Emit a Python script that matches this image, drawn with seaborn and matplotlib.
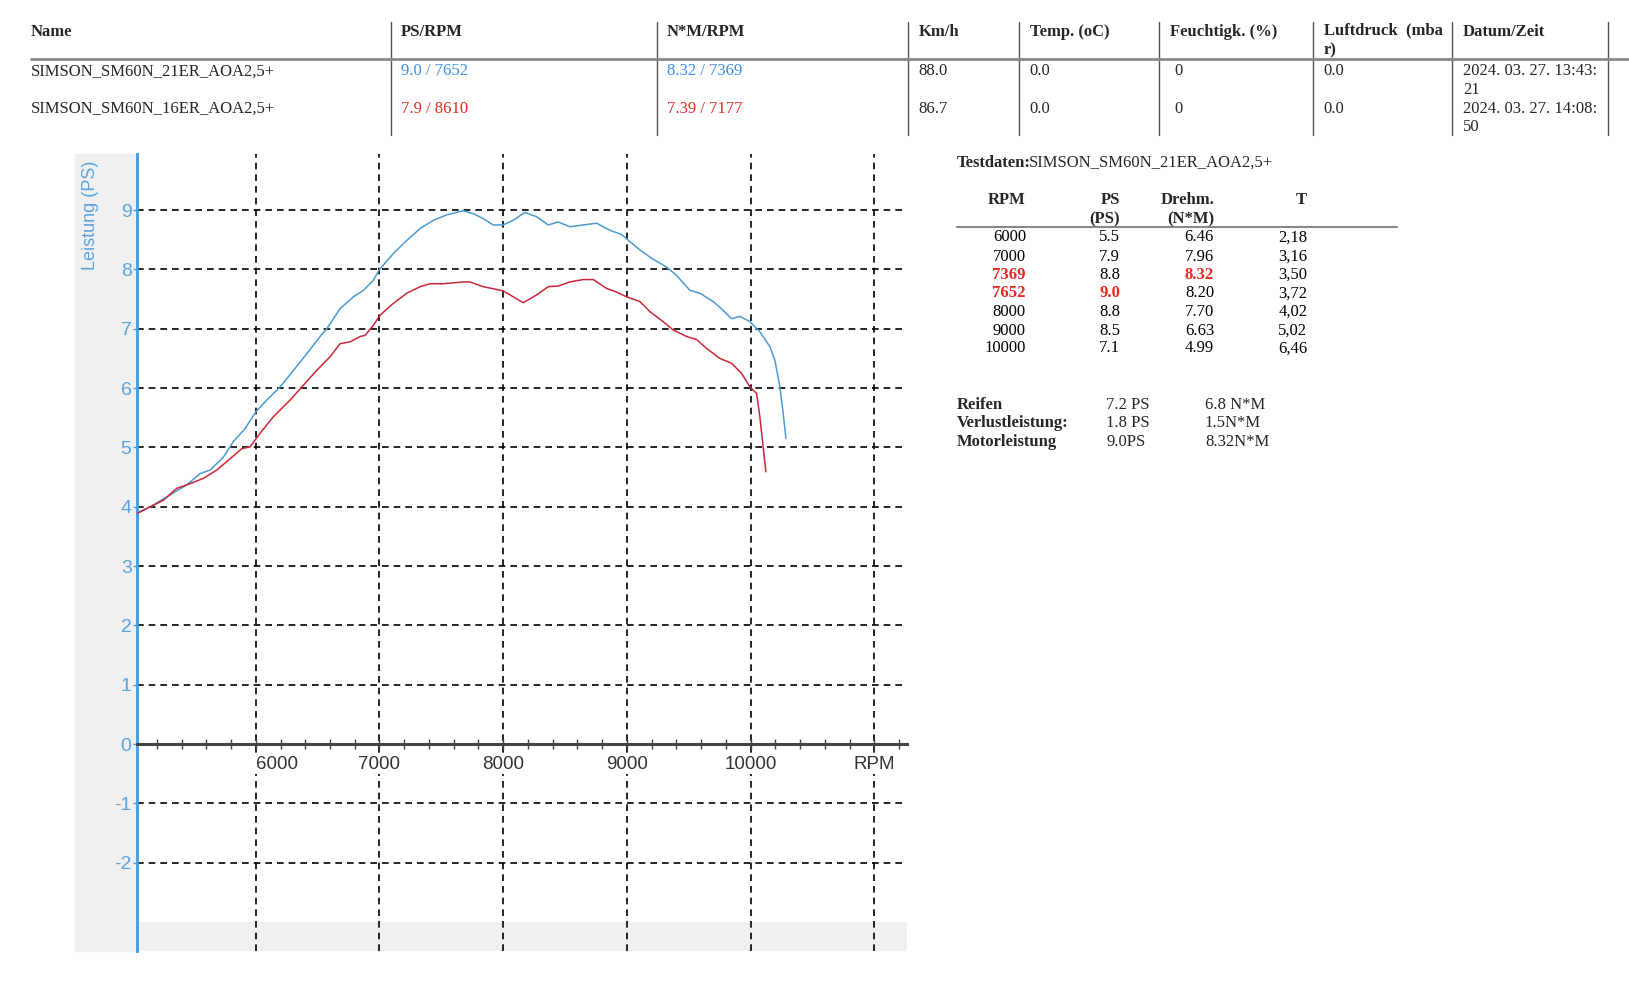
import matplotlib.pyplot as plt
import seaborn as sns
from matplotlib.patches import Rectangle
from matplotlib.lines import Line2D

# Leistungskurven
rpm_21er = [5043, 5146, 5307, 5442, 5550, 5631, 5739, 5819, 5914, 6000,
            6089, 6197, 6305, 6412, 6520, 6574, 6682, 6790, 6871, 6951,
            7000, 7113, 7221, 7329, 7437, 7544, 7679, 7757, 7838, 7919,
            8000, 8081, 8175, 8270, 8364, 8445, 8539, 8647, 8755, 8863,
            8957, 9024, 9105, 9199, 9321, 9402, 9509, 9590, 9698, 9779,
            9846, 9914, 9995, 10075, 10156, 10197, 10237, 10264, 10286]
ps_21er = [3.90, 4.00, 4.20, 4.37, 4.56, 4.62, 4.84, 5.10, 5.32, 5.60,
           5.80, 6.02, 6.30, 6.58, 6.87, 7.00, 7.34, 7.54, 7.65, 7.82,
           8.00, 8.27, 8.49, 8.69, 8.83, 8.92, 8.99, 8.94, 8.86, 8.75,
           8.75, 8.83, 8.96, 8.89, 8.75, 8.80, 8.72, 8.75, 8.78, 8.66,
           8.59, 8.47, 8.33, 8.19, 8.04, 7.90, 7.65, 7.60, 7.46, 7.31,
           7.17, 7.21, 7.12, 6.95, 6.70, 6.47, 6.02, 5.57, 5.15]

rpm_16er = [5043, 5146, 5253, 5361, 5469, 5577, 5685, 5792, 5887, 5954,
            6035, 6143, 6278, 6385, 6493, 6601, 6682, 6763, 6844, 6884,
            6951, 7005, 7113, 7221, 7329, 7410, 7518, 7679, 7730, 7838,
            8000, 8081, 8162, 8270, 8364, 8445, 8539, 8647, 8728, 8836,
            8916, 8997, 9105, 9186, 9294, 9375, 9483, 9563, 9644, 9752,
            9846, 9927, 9995, 10049, 10075, 10102, 10124]
ps_16er = [3.89, 4.00, 4.11, 4.31, 4.39, 4.48, 4.62, 4.81, 4.98, 5.01,
           5.24, 5.52, 5.80, 6.05, 6.30, 6.53, 6.75, 6.78, 6.87, 6.89,
           7.06, 7.23, 7.43, 7.60, 7.71, 7.76, 7.76, 7.79, 7.79, 7.71,
           7.64, 7.54, 7.44, 7.57, 7.71, 7.72, 7.79, 7.83, 7.83, 7.68,
           7.62, 7.54, 7.46, 7.29, 7.12, 6.98, 6.87, 6.82, 6.67, 6.50,
           6.42, 6.25, 6.02, 5.91, 5.52, 5.01, 4.59]

x_ticks = [6000, 7000, 8000, 9000, 10000, 11000]
x_tick_labels = ['6000', '7000', '8000', '9000', '10000', 'RPM']
y_ticks = [-2, -1, 0, 1, 2, 3, 4, 5, 6, 7, 8, 9]

# Kopftabelle
header_cols = ['Name', 'PS/RPM', 'N*M/RPM', 'Km/h', 'Temp. (oC)',
               'Feuchtigk. (%)', 'Luftdruck  (mba\nr)', 'Datum/Zeit']
run_names = ['SIMSON_SM60N_21ER_AOA2,5+', 'SIMSON_SM60N_16ER_AOA2,5+']
ps_rpm = ['9.0 / 7652', '7.9 / 8610']
nm_rpm = ['8.32 / 7369', '7.39 / 7177']
kmh = ['88.0', '86.7']
temp = ['0.0', '0.0']
humidity = ['0', '0']
pressure = ['0.0', '0.0']
timestamps = ['2024. 03. 27. 13:43:\n21', '2024. 03. 27. 14:08:\n50']

# Testdaten-Tabelle
summary_rpm = ['6000', '7000', '7369', '7652', '8000', '9000', '10000']
summary_ps = ['5.5', '7.9', '8.8', '9.0', '8.8', '8.5', '7.1']
summary_torque = ['6.46', '7.96', '8.32', '8.20', '7.70', '6.63', '4.99']
summary_t = ['2,18', '3,16', '3,50', '3,72', '4,02', '5,02', '6,46']

loss_labels = ['Reifen', 'Verlustleistung:', 'Motorleistung']
loss_ps = ['7.2 PS', '1.8 PS', '9.0PS']
loss_nm = ['6.8 N*M', '1.5N*M', '8.32N*M']

BLUE_LINE = '#4b9ad2'
RED_LINE = '#c8283a'
BLUE_TXT = '#3a8ef0'
RED_TXT = '#e8281e'
AXIS_BLUE = '#3d9be0'
LABEL_BLUE = '#5aa3e0'
GRAY_BG = '#f0f0f0'

sns.set_style('white')
SERIF = ['Liberation Serif', 'DejaVu Serif']
SANS = ['Liberation Sans', 'DejaVu Sans']
plt.rcParams['font.family'] = SERIF

fig = plt.figure(figsize=(16.29, 10.07), dpi=100)
fig.patch.set_facecolor('white')

# ---- Kopftabelle ----
col_x = [0.0191, 0.2462, 0.4094, 0.5638, 0.632, 0.7181, 0.8125, 0.898]
sep_x = [0.2398, 0.4031, 0.5574, 0.6256, 0.7117, 0.8061, 0.8916, 0.9872]
fs = 12
for cx, name in zip(col_x, header_cols):
    two = '\n' in name
    fig.text(cx, 0.9598 if two else 0.968, name, fontsize=fs, fontweight='bold',
             va='center', ha='left', family=SERIF, linespacing=1.28 if two else 1.2)
for sx in sep_x:
    fig.add_artist(Line2D([sx, sx], [0.866, 0.978], transform=fig.transFigure,
                          color='#555555', lw=1.0))
fig.add_artist(Line2D([0.0188, 1.0], [0.941, 0.941], transform=fig.transFigure,
                      color='#888888', lw=2.0))

row_y = [0.929, 0.892]
row_colors = [BLUE_TXT, RED_TXT]
for i, ry in enumerate(row_y):
    fig.text(col_x[0], ry, run_names[i], fontsize=fs, va='center', family=SERIF)
    fig.text(col_x[1], ry, ps_rpm[i], fontsize=fs, va='center', color=row_colors[i], family=SERIF)
    fig.text(col_x[2], ry, nm_rpm[i], fontsize=fs, va='center', color=row_colors[i], family=SERIF)
    fig.text(col_x[3], ry, kmh[i], fontsize=fs, va='center', family=SERIF)
    fig.text(col_x[4], ry, temp[i], fontsize=fs, va='center', family=SERIF)
    fig.text(col_x[5] + 0.0026, ry, humidity[i], fontsize=fs, va='center', family=SERIF)
    fig.text(col_x[6], ry, pressure[i], fontsize=fs, va='center', family=SERIF)
    fig.text(col_x[7], ry - 0.0092, timestamps[i], fontsize=fs, va='center',
             family=SERIF, linespacing=1.24)

# ---- Testdaten ----
fig.text(0.5872, 0.8385, 'Testdaten:', fontsize=fs, fontweight='bold', va='center', family=SERIF)
fig.text(0.5872 + 0.0445, 0.8385, run_names[0], fontsize=fs, va='center', family=SERIF)

tcol = [0.6298, 0.6875, 0.7453, 0.8025]
fig.text(tcol[0], 0.8014, 'RPM', fontsize=fs, fontweight='bold', ha='right', va='center', family=SERIF)
fig.text(tcol[1], 0.7922, 'PS\n(PS)', fontsize=fs, fontweight='bold', ha='right', va='center',
         family=SERIF, multialignment='right', linespacing=1.28)
fig.text(tcol[2], 0.7922, 'Drehm.\n(N*M)', fontsize=fs, fontweight='bold', ha='right', va='center',
         family=SERIF, multialignment='right', linespacing=1.28)
fig.text(tcol[3], 0.8014, 'T', fontsize=fs, fontweight='bold', ha='right', va='center', family=SERIF)
fig.add_artist(Line2D([0.5874, 0.8578], [0.7749, 0.7749], transform=fig.transFigure,
                      color='#888888', lw=1.5))

peak_torque_rpm = nm_rpm[0].split(' / ')[1]
peak_power_rpm = ps_rpm[0].split(' / ')[1]
srow_y = [0.7643, 0.7451, 0.7269, 0.7087, 0.6905, 0.6716, 0.6541]
for i, sy in enumerate(srow_y):
    hi_rpm = summary_rpm[i] in (peak_torque_rpm, peak_power_rpm)
    cells = [summary_rpm[i], summary_ps[i], summary_torque[i], summary_t[i]]
    hl = [hi_rpm,
          summary_rpm[i] == peak_power_rpm,
          summary_rpm[i] == peak_torque_rpm,
          False]
    for cx, val, h in zip(tcol, cells, hl):
        fig.text(cx, sy, val, fontsize=fs, ha='right', va='center', family=SERIF,
                 color=RED_TXT if h else 'black', fontweight='bold' if h else 'normal')

loss_y = [0.5978, 0.5796, 0.5614]
for i, ly in enumerate(loss_y):
    fig.text(0.5872, ly, loss_labels[i], fontsize=fs, fontweight='bold', va='center', family=SERIF)
    fig.text(0.679, ly, loss_ps[i], fontsize=fs, va='center', family=SERIF)
    fig.text(0.7397, ly, loss_nm[i], fontsize=fs, va='center', family=SERIF)

# ---- Diagramm ----
fig.add_artist(Rectangle((0.0459, 0.056), 0.0842 - 0.0459, 0.8473 - 0.056,
                         transform=fig.transFigure, color=GRAY_BG, zorder=0))

ax = fig.add_axes([0.0842, 0.056, 0.4726, 0.7913])
ax.set_facecolor('white')
ax.set_xlim(5041, 11265)
ax.set_ylim(-3.48, 9.95)
ax.axhspan(-3.48, -3.0, color=GRAY_BG, zorder=0.5, lw=0)

sns.lineplot(x=rpm_21er, y=ps_21er, sort=False, estimator=None, color=BLUE_LINE,
             lw=1.1, ax=ax, zorder=3)
sns.lineplot(x=rpm_16er, y=ps_16er, sort=False, estimator=None, color=RED_LINE,
             lw=1.1, ax=ax, zorder=3)

ax.set_xticks(x_ticks, x_tick_labels)
ax.set_xticks(list(range(5200, 11265, 200)), minor=True)
ax.set_yticks(y_ticks, [str(v) for v in y_ticks])
ax.grid(True, which='major', color='black', lw=1.2, linestyle=(0, (4, 3)))
ax.grid(False, which='minor')
ax.set_axisbelow('line')

for s in ['top', 'right']:
    ax.spines[s].set_visible(False)
ax.spines['bottom'].set_position(('data', 0))
ax.spines['bottom'].set_color('#444444')
ax.spines['bottom'].set_linewidth(2.2)
ax.spines['left'].set_color(AXIS_BLUE)
ax.spines['left'].set_linewidth(2.0)

ax.tick_params(axis='x', which='both', direction='inout', length=7, width=1.0,
               color='#444444', labelsize=13.5, labelcolor='#333333', pad=5,
               bottom=True)
ax.tick_params(axis='y', direction='out', length=3, width=1.0, color=AXIS_BLUE,
               labelsize=14, labelcolor=LABEL_BLUE, pad=1, left=True)
for lbl in ax.get_xticklabels():
    lbl.set_family(SANS)
    lbl.set_bbox(dict(facecolor='white', edgecolor='none', pad=0.5))
for lbl in ax.get_yticklabels():
    lbl.set_family(SANS)
ax.xaxis.get_major_ticks()[0].label1.set_horizontalalignment('left')
ax.set_xlabel('')
ax.set_ylabel('')

fig.text(0.0554, 0.7865, 'Leistung (PS)', rotation=90, ha='center', va='center',
         fontsize=13, color=LABEL_BLUE, family=SANS)

fig.savefig('out.png', dpi=100)
